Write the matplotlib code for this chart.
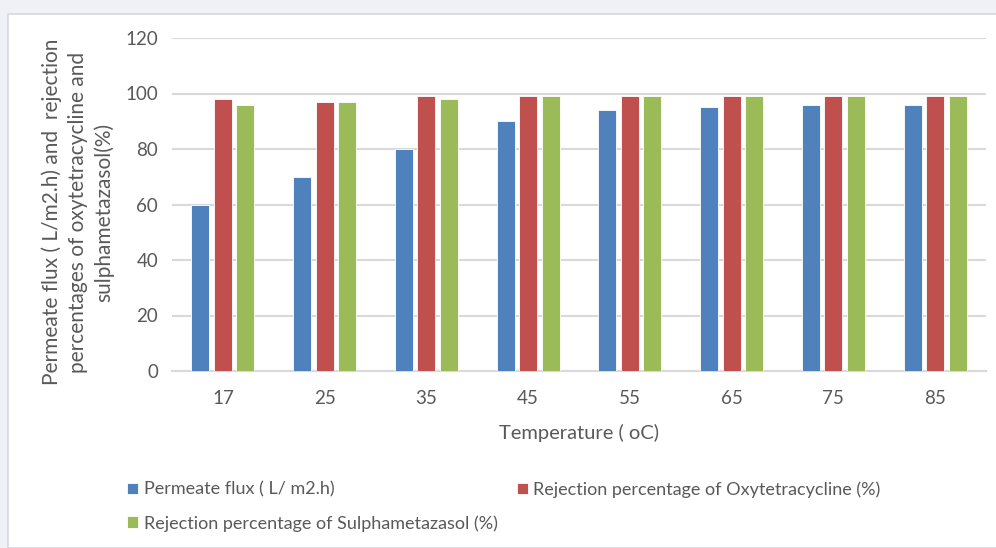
import numpy as np
import matplotlib.pyplot as plt
from matplotlib.patches import Rectangle

plt.rcParams['font.family'] = ['Lato', 'DejaVu Sans']

temperatures = ['17', '25', '35', '45', '55', '65', '75', '85']
permeate_flux = [60, 70, 80, 90, 94, 95, 96, 96]
rejection_oxy = [98, 97, 99, 99, 99, 99, 99, 99]
rejection_sulf = [96, 97, 98, 99, 99, 99, 99, 99]

series_labels = ['Permeate flux ( L/ m2.h)',
                 'Rejection percentage of Oxytetracycline (%)',
                 'Rejection percentage of Sulphametazasol (%)']
colors = ['#4f81bd', '#c0504d', '#9bbb59']
text_gray = '#595959'
grid_gray = '#d9d9d9'

fig = plt.figure(figsize=(9.96, 5.48), dpi=100, facecolor='#eff1f6')
# white chart area with thin border
fig.patches.append(Rectangle((8 / 996, 0), 1, 1 - 14 / 548, transform=fig.transFigure,
                             facecolor='white', edgecolor='#d6d8de', linewidth=1.2, zorder=-5))

ax = fig.add_axes([172 / 996, 1 - 371 / 548, 814 / 996, 333 / 548])
ax.set_facecolor('none')
ax.set_zorder(2)

x = np.arange(len(temperatures))
width = 0.177
offset = 0.22
bars = []
for i, (vals, c) in enumerate(zip([permeate_flux, rejection_oxy, rejection_sulf], colors)):
    b = ax.bar(x + (i - 1) * offset, vals, width, color=c, edgecolor='white',
               linewidth=0.6, label=series_labels[i], zorder=3)
    bars.append(b)

ax.set_xlim(-0.5, len(temperatures) - 0.5)
ax.set_ylim(0, 120)
ax.set_yticks(range(0, 121, 20))
ax.set_xticks(x)
ax.set_xticklabels(temperatures)
ax.yaxis.grid(True, color=grid_gray, linewidth=1.5, zorder=0)
ax.set_axisbelow(True)
for s in ['top', 'right', 'left']:
    ax.spines[s].set_visible(False)
ax.spines['bottom'].set_color(grid_gray)
ax.spines['bottom'].set_linewidth(1.5)
ax.tick_params(axis='both', length=0, colors=text_gray, labelsize=13.5)
ax.tick_params(axis='y', pad=10)
ax.tick_params(axis='x', pad=14)

ax.set_xlabel('Temperature ( oC)', fontsize=14.5, color=text_gray, labelpad=12)
fig.text(78 / 996, 1 - 212 / 548,
         'Permeate flux ( L/m2.h) and  rejection\npercentages of oxytetracycline and\nsulphametazasol(%)',
         rotation=90, ha='center', va='center', fontsize=15, color=text_gray,
         multialignment='center', linespacing=1.35)

handles = [bars[0], bars[2], bars[1]]
labels = [series_labels[0], series_labels[2], series_labels[1]]
fig.legend(handles, labels, loc='upper left', bbox_to_anchor=(111 / 996, 1 - 465 / 548),
           ncol=2, frameon=False, fontsize=13, labelcolor=text_gray,
           handlelength=0.6, handleheight=0.6, handletextpad=0.3,
           columnspacing=1.1, labelspacing=0.95)

fig.savefig('out.png', dpi=100, facecolor=fig.get_facecolor())
